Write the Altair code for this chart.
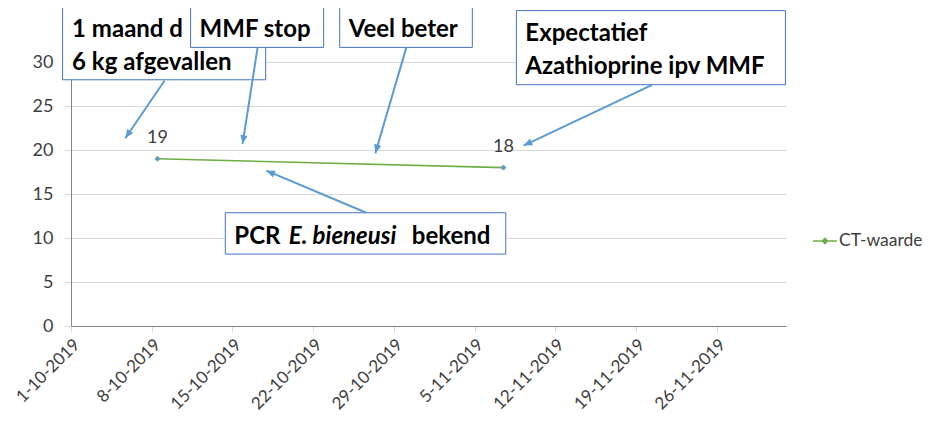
import math
from datetime import datetime, timedelta, timezone

import altair as alt
import pandas as pd

# ---------------- data ----------------
dates = ["2019-10-08", "2019-11-07"]
ct_values = [19, 18]
series_name = "CT-waarde"
y_ticks = [0, 5, 10, 15, 20, 25, 30]
x_tick_dates = ["2019-10-01", "2019-10-08", "2019-10-15", "2019-10-22", "2019-10-29",
                "2019-11-05", "2019-11-12", "2019-11-19", "2019-11-26"]
x_domain = ["2019-10-01", "2019-12-02"]
y_domain = [0, 30]

# annotation texts
box_lines = [["1 maand d", "6 kg afgevallen"], ["MMF stop"], ["Veel beter"],
             ["Expectatief", "Azathioprine ipv MMF"]]
pcr_parts = ["PCR", "E. bieneusi", "bekend"]

# annotation placement (days after 1-10-2019, CT value)
box_x0 = [-0.73, 10.37, 23.30, 38.62, 13.38]
box_x1 = [16.88, 21.91, 34.80, 61.95, 37.70]
box_y0 = [27.98, 31.66, 31.66, 27.42, 8.17]
box_y1 = [36.33, 36.33, 36.33, 35.84, 12.87]
text_x = [0.095, 11.15, 24.08, 39.40]
text_y = [[33.6, 29.9], [33.65], [33.65], [33.2, 29.45]]
pcr_x = [14.16, 23.55, 29.55]
pcr_align = ["left", "center", "left"]
pcr_y = 10.1
arrow_x0 = [8.12, 16.18, 29.08, 50.39, 25.61]
arrow_y0 = [27.9, 31.66, 31.66, 27.41, 12.87]
arrow_x1 = [4.71, 14.88, 26.39, 39.25, 16.94]
arrow_y1 = [21.34, 20.69, 19.64, 20.50, 17.65]

# ---------------- helpers ----------------
BASE = datetime(2019, 10, 1, tzinfo=timezone.utc)


def ms_from_day(d):
    return (BASE + timedelta(days=d)).timestamp() * 1000


def ms_from_str(s):
    return datetime.strptime(s, "%Y-%m-%d").replace(tzinfo=timezone.utc).timestamp() * 1000


W, H = 715, 264
DAY_PX = W / ((ms_from_str(x_domain[1]) - ms_from_str(x_domain[0])) / 86400000)
VAL_PX = H / (y_domain[1] - y_domain[0])

FONT = "Lato"
BLUE_BORDER = "#4472C4"
ARROW = "#5B9BD5"
GREEN = "#70AD47"
TXT = "#404040"

xscale = alt.Scale(type="utc", domain=[ms_from_str(x_domain[0]), ms_from_str(x_domain[1])])
yscale = alt.Scale(domain=y_domain, nice=False, zero=True)

x_axis = alt.Axis(
    values=[ms_from_str(s) for s in x_tick_dates],
    labelExpr="utcFormat(datum.value, '%-d-%-m-%Y')",
    labelAngle=-45, labelAlign="right", labelBaseline="top", labelOverlap=False,
    labelFont=FONT, labelFontSize=17, labelColor=TXT, labelPadding=4,
    domainColor="#868686", tickColor="#D9D9D9", tickSize=6, grid=False, title=None,
)
y_axis = alt.Axis(
    values=y_ticks, labelFont=FONT, labelFontSize=18, labelColor=TXT,
    domainColor="#868686", tickColor="#D9D9D9", tickSize=7, labelPadding=11,
    grid=True, gridColor="#D9D9D9", title=None,
)


def X(field):
    return alt.X(f"{field}:T", scale=xscale, axis=x_axis, title=None)


def Y(field):
    return alt.Y(f"{field}:Q", scale=yscale, axis=y_axis, title=None)


layers = []

df = pd.DataFrame({"date": dates, "ct": ct_values, "series": series_name})
base = alt.Chart(df).transform_calculate(t="time(toDate(datum.date)) + 43200000")

# annotation boxes and texts
for i, lines in enumerate(box_lines):
    bd = pd.DataFrame({"x0": [ms_from_day(box_x0[i])], "x1": [ms_from_day(box_x1[i])],
                       "y0": [box_y0[i]], "y1": [box_y1[i]]})
    layers.append(alt.Chart(bd).mark_rect(fill="white", stroke=BLUE_BORDER, strokeWidth=1).encode(
        x=X("x0"), x2="x1", y=Y("y0"), y2="y1"))
    td = pd.DataFrame({"x": [ms_from_day(text_x[i])] * len(lines), "y": text_y[i], "label": lines})
    layers.append(alt.Chart(td).mark_text(align="left", baseline="middle", font=FONT, fontSize=24,
                                          fontWeight="bold", color="black").encode(
        x=X("x"), y=Y("y"), text="label:N"))

# PCR box
i = 4
bd = pd.DataFrame({"x0": [ms_from_day(box_x0[i])], "x1": [ms_from_day(box_x1[i])],
                   "y0": [box_y0[i]], "y1": [box_y1[i]]})
layers.append(alt.Chart(bd).mark_rect(fill="white", stroke=BLUE_BORDER, strokeWidth=1).encode(
    x=X("x0"), x2="x1", y=Y("y0"), y2="y1"))
for j, part in enumerate(pcr_parts):
    pd_ = pd.DataFrame({"x": [ms_from_day(pcr_x[j])], "y": [pcr_y], "label": [part]})
    layers.append(alt.Chart(pd_).mark_text(
        align=pcr_align[j], baseline="middle", font=FONT, fontSize=24, fontWeight="bold",
        fontStyle="italic" if j == 1 else "normal", color="black").encode(
        x=X("x"), y=Y("y"), text="label:N"))

# arrows
angles = []
for k in range(len(arrow_x0)):
    dx = (arrow_x1[k] - arrow_x0[k]) * DAY_PX
    dy = -(arrow_y1[k] - arrow_y0[k]) * VAL_PX
    angles.append(math.degrees(math.atan2(dx, -dy)) % 360)
ad = pd.DataFrame({
    "x0": [ms_from_day(v) for v in arrow_x0], "y0": arrow_y0,
    "x1": [ms_from_day(v) for v in arrow_x1], "y1": arrow_y1, "ang": angles,
})
layers.append(alt.Chart(ad).mark_rule(color=ARROW, strokeWidth=2).encode(
    x=X("x0"), x2="x1", y=Y("y0"), y2="y1"))
layers.append(alt.Chart(ad).mark_point(
    shape="M0,0L-0.42,1L0.42,1Z", filled=True, color=ARROW, size=300, opacity=1).encode(
    x=X("x1"), y=Y("y1"), angle=alt.Angle("ang:Q", scale=None)))

# series line with legend
legend = alt.Legend(
    title=None, orient="none", legendX=741, legendY=166, padding=0,
    symbolType="M-1,0L1,0M-0.22,0L0,-0.22L0.22,0L0,0.22Z",
    symbolSize=576, symbolStrokeColor=GREEN, symbolFillColor="#5B9BD5", symbolStrokeWidth=1.5,
    labelFont=FONT, labelFontSize=17.5, labelColor=TXT, labelOffset=1,
)
layers.append(base.mark_line(strokeWidth=1.6).encode(
    x=X("t"), y=Y("ct"),
    color=alt.Color("series:N", scale=alt.Scale(range=[GREEN]), legend=legend)))
layers.append(base.mark_point(shape="diamond", filled=True, fill="#5B9BD5", stroke=GREEN,
                              strokeWidth=0.5, size=30, opacity=1).encode(x=X("t"), y=Y("ct")))
layers.append(base.mark_text(baseline="middle", dy=-21, font=FONT, fontSize=18, color=TXT).encode(
    x=X("t"), y=Y("ct"), text="ct:Q"))

chart = alt.layer(*layers).properties(
    width=W, height=H,
    autosize=alt.AutoSizeParams(type="none"),
    padding={"left": 63, "top": 54, "right": 136, "bottom": 90},
).configure(background="white", view=alt.ViewConfig(strokeWidth=0))

chart.save("out.html", embed_options={"renderer": "svg", "actions": False})
